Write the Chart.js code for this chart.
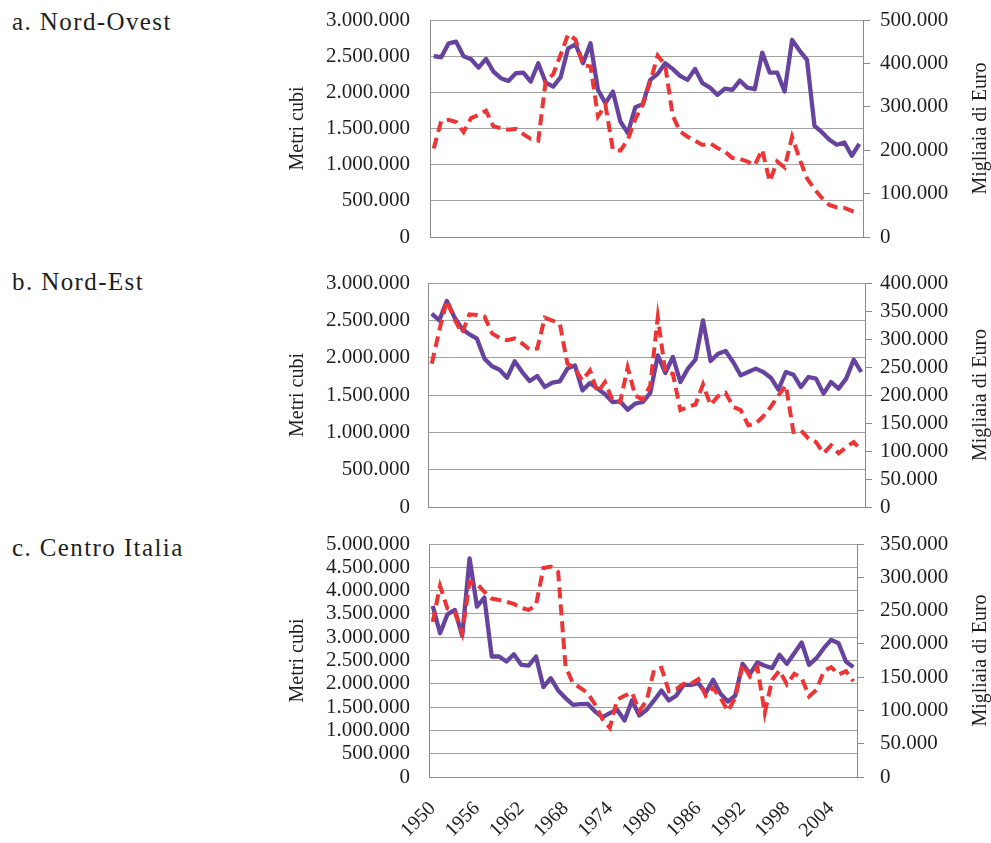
<!DOCTYPE html>
<html>
<head>
<meta charset="utf-8">
<script src="https://cdn.jsdelivr.net/npm/chart.js@4.4.0/dist/chart.umd.min.js"></script>
<style>
  body { margin: 0; background: #fff; width: 991px; height: 843px; position: relative; overflow: hidden; }
  canvas { position: absolute; left: 0; }
  .ttl { position: absolute; left: 12px; font: 25px/25px 'Liberation Serif', 'DejaVu Serif', serif; letter-spacing: 1.4px; color: #1e1e1e; white-space: nowrap; }
</style>
</head>
<body>
<div class="ttl" style="top:9px">a. Nord-Ovest</div>
<div class="ttl" style="top:269px">b. Nord-Est</div>
<div class="ttl" style="top:535px">c. Centro Italia</div>
<canvas id="chartA" width="991" height="255" style="top:0"></canvas>
<canvas id="chartB" width="991" height="262" style="top:258px"></canvas>
<canvas id="chartC" width="991" height="318" style="top:525px"></canvas>
<script>
/* ============ DATA ============ */
const years = [1950, 1951, 1952, 1953, 1954, 1955, 1956, 1957, 1958, 1959,
  1960, 1961, 1962, 1963, 1964, 1965, 1966, 1967, 1968, 1969,
  1970, 1971, 1972, 1973, 1974, 1975, 1976, 1977, 1978, 1979,
  1980, 1981, 1982, 1983, 1984, 1985, 1986, 1987, 1988, 1989,
  1990, 1991, 1992, 1993, 1994, 1995, 1996, 1997, 1998, 1999,
  2000, 2001, 2002, 2003, 2004, 2005, 2006, 2007];
const yearLabels = [1950, 1956, 1962, 1968, 1974, 1980, 1986, 1992, 1998, 2004];

// a. Nord-Ovest
const metriNO = [2500000, 2485000, 2678000, 2700000, 2500000, 2457000, 2342000, 2462000, 2287000, 2195000,
  2158000, 2264000, 2273000, 2149000, 2402000, 2135000, 2080000, 2209000, 2609000, 2664000,
  2402000, 2678000, 2034000, 1850000, 2011000, 1597000, 1436000, 1794000, 1836000, 2172000,
  2255000, 2402000, 2324000, 2227000, 2172000, 2324000, 2126000, 2066000, 1965000, 2052000,
  2034000, 2163000, 2066000, 2043000, 2549000, 2273000, 2273000, 2011000, 2724000, 2577000,
  2448000, 1537000, 1449000, 1344000, 1275000, 1307000, 1123000, 1288000];
const euroNO = [204000, 267000, 270000, 265000, 242000, 274000, 281000, 291000, 255000, 251000,
  247000, 249000, 237000, 226000, 222000, 360000, 375000, 420000, 467000, 455000,
  396000, 393000, 278000, 304000, 201000, 199000, 224000, 272000, 305000, 358000,
  418000, 396000, 280000, 243000, 231000, 222000, 212000, 216000, 205000, 197000,
  182000, 180000, 174000, 166000, 201000, 128000, 174000, 160000, 231000, 180000,
  135000, 110000, 90000, 74000, 68000, 67000, 60000, 53000];

// b. Nord-Est
const metriNE = [2589000, 2500000, 2759000, 2544000, 2388000, 2312000, 2254000, 1987000, 1884000, 1839000,
  1732000, 1951000, 1808000, 1687000, 1754000, 1607000, 1665000, 1683000, 1853000, 1897000,
  1562000, 1661000, 1585000, 1509000, 1406000, 1415000, 1303000, 1384000, 1406000, 1527000,
  2031000, 1795000, 2009000, 1674000, 1853000, 1973000, 2500000, 1955000, 2053000, 2089000,
  1942000, 1763000, 1808000, 1853000, 1808000, 1732000, 1571000, 1808000, 1772000, 1607000,
  1741000, 1719000, 1518000, 1674000, 1585000, 1719000, 1973000, 1808000];
const euroNE = [256000, 315000, 369000, 336000, 310000, 344000, 343000, 340000, 310000, 302000,
  298000, 301000, 292000, 281000, 283000, 338000, 333000, 327000, 256000, 247000,
  226000, 244000, 205000, 223000, 190000, 187000, 249000, 199000, 192000, 217000,
  339000, 241000, 238000, 173000, 179000, 183000, 219000, 182000, 198000, 204000,
  179000, 173000, 146000, 149000, 162000, 179000, 199000, 217000, 134000, 137000,
  122000, 116000, 96000, 110000, 96000, 107000, 116000, 101000];

// c. Centro Italia
const metriCI = [3671000, 3086000, 3490000, 3585000, 3030000, 4693000, 3656000, 3850000, 2586000, 2586000,
  2477000, 2636000, 2407000, 2390000, 2586000, 1929000, 2121000, 1857000, 1693000, 1550000,
  1564000, 1571000, 1407000, 1286000, 1371000, 1443000, 1214000, 1643000, 1321000, 1443000,
  1643000, 1857000, 1643000, 1743000, 1979000, 1979000, 2014000, 1800000, 2086000, 1786000,
  1621000, 1743000, 2429000, 2214000, 2457000, 2386000, 2336000, 2621000, 2429000, 2657000,
  2886000, 2407000, 2550000, 2764000, 2943000, 2871000, 2479000, 2357000];
const euroCI = [233000, 287000, 253000, 248000, 216000, 293000, 290000, 278000, 268000, 266000,
  263000, 260000, 254000, 251000, 258000, 314000, 316000, 308000, 166000, 141000,
  134000, 126000, 109000, 87000, 74000, 116000, 122000, 127000, 99000, 115000,
  161000, 164000, 129000, 132000, 140000, 140000, 147000, 122000, 134000, 119000,
  99000, 119000, 169000, 151000, 165000, 96000, 146000, 160000, 139000, 155000,
  149000, 121000, 131000, 159000, 165000, 154000, 159000, 144000];

// tick values of the two vertical axes
const metriTicksAB = [0, 500000, 1000000, 1500000, 2000000, 2500000, 3000000];
const metriTicksC = [0, 500000, 1000000, 1500000, 2000000, 2500000, 3000000, 3500000, 4000000, 4500000, 5000000];
const euroTicksA = [0, 100000, 200000, 300000, 400000, 500000];
const euroTicksB = [0, 50000, 100000, 150000, 200000, 250000, 300000, 350000, 400000];
const euroTicksC = [0, 50000, 100000, 150000, 200000, 250000, 300000, 350000];

/* ============ STYLE ============ */
const SERIF = "'Liberation Serif', 'DejaVu Serif', serif";
const INK = '#1e1e1e';
const PURPLE = '#66439f';
const RED = '#ee3434';
const GRID = '#a0a0a0';
const FRAME = '#8a8a8a';
const fmt = v => String(v).replace(/\B(?=(\d{3})+(?!\d))/g, '.');

// scales keep the exact size given, without extra label padding in the layout
const fixBox = (w, h) => s => {
  if (w !== null) s.width = w;
  if (h !== null) s.height = h;
  s.paddingTop = s.paddingBottom = s.paddingLeft = s.paddingRight = 0;
};

// rotated axis titles, both reading bottom to top
const axisTitles = {
  id: 'axisTitles',
  afterDraw(chart) {
    const { ctx, chartArea } = chart;
    const cy = (chartArea.top + chartArea.bottom) / 2;
    ctx.save();
    ctx.font = '20px ' + SERIF;
    ctx.fillStyle = INK;
    ctx.textAlign = 'center';
    ctx.textBaseline = 'middle';
    [[298, 'Metri cubi'], [981, 'Migliaia di Euro']].forEach(([x, t]) => {
      ctx.save();
      ctx.translate(x, cy);
      ctx.rotate(-Math.PI / 2);
      ctx.fillText(t, 0, 0);
      ctx.restore();
    });
    ctx.restore();
  }
};

/* ============ PANELS ============ */
// area = plot frame in canvas coordinates
function panel(id, metri, euro, metriTicks, euroTicks, area, showYears) {
  const canvas = document.getElementById(id);
  const H = canvas.height, W = canvas.width;
  new Chart(canvas, {
    type: 'line',
    data: {
      labels: years,
      datasets: [
        { data: euro, yAxisID: 'y1', borderColor: RED, borderWidth: 4, borderDash: [11, 6],
          pointRadius: 0, tension: 0, fill: false },
        { data: metri, yAxisID: 'y', borderColor: PURPLE, borderWidth: 4.3, borderJoinStyle: 'round',
          pointRadius: 0, tension: 0, fill: false }
      ]
    },
    options: {
      responsive: false, animation: false,
      layout: { padding: { top: area.top, left: 0, right: 0, bottom: 0 } },
      plugins: { legend: { display: false }, tooltip: { enabled: false } },
      scales: {
        x: {
          offset: true,
          grid: { display: false },
          border: { display: true, color: FRAME, width: 1 },
          ticks: {
            display: showYears, autoSkip: false, maxRotation: 45, minRotation: 45,
            padding: 12, color: INK, font: { family: SERIF, size: 20 },
            callback: (v, i) => yearLabels.includes(years[i]) ? String(years[i]) : ''
          },
          afterFit: fixBox(null, H - area.bottom)
        },
        y: {
          position: 'left', min: 0, max: metriTicks[metriTicks.length - 1],
          afterBuildTicks: s => { s.ticks = metriTicks.map(v => ({ value: v })); },
          grid: { color: GRID, drawTicks: false },
          border: { display: true, color: FRAME },
          ticks: { autoSkip: false, padding: area.left - 410, color: INK,
                   font: { family: SERIF, size: 21 }, callback: v => fmt(v) },
          afterFit: fixBox(area.left, null)
        },
        y1: {
          position: 'right', min: 0, max: euroTicks[euroTicks.length - 1],
          afterBuildTicks: s => { s.ticks = euroTicks.map(v => ({ value: v })); },
          grid: { drawOnChartArea: false, drawTicks: true, tickLength: 7, color: FRAME },
          border: { display: true, color: FRAME },
          ticks: { autoSkip: false, padding: 880 - area.right - 7, color: INK,
                   font: { family: SERIF, size: 21 }, callback: v => fmt(v) },
          afterFit: fixBox(W - area.right, null)
        }
      }
    },
    plugins: [axisTitles]
  });
}

function drawAll() {
  panel('chartA', metriNO, euroNO, metriTicksAB, euroTicksA, { left: 430, right: 863, top: 20, bottom: 237 }, false);
  panel('chartB', metriNE, euroNE, metriTicksAB, euroTicksB, { left: 428, right: 865, top: 25, bottom: 249 }, false);
  panel('chartC', metriCI, euroCI, metriTicksC, euroTicksC, { left: 429, right: 857, top: 19, bottom: 252 }, true);
}

Promise.all([
  document.fonts.load("20px 'Liberation Serif'"),
  document.fonts.load("21px 'Liberation Serif'")
]).then(drawAll, drawAll);
</script>
</body>
</html>
